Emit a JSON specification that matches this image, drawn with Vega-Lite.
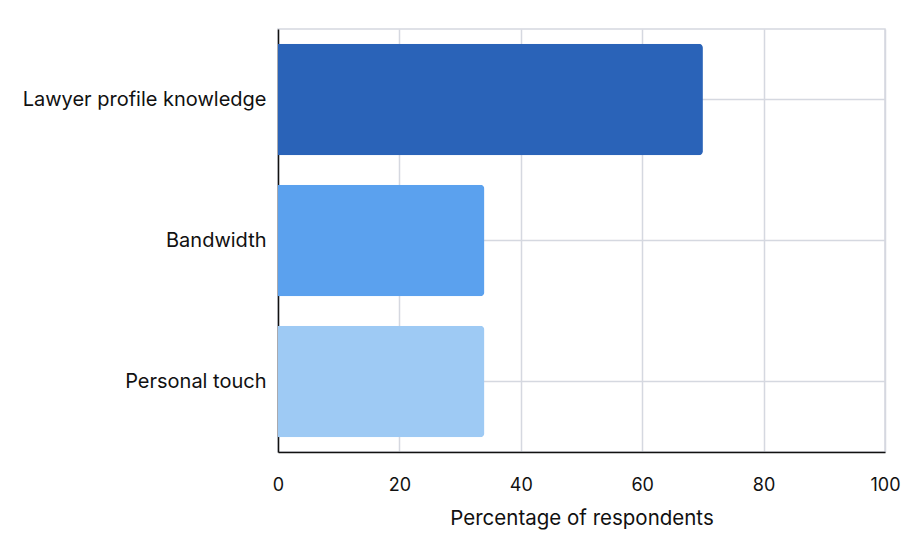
{
  "$schema": "https://vega.github.io/schema/vega-lite/v6.json",
  "width": 607,
  "height": 423,
  "autosize": "none",
  "padding": {"left": 278, "top": 29, "right": 39, "bottom": 105},
  "background": "white",
  "config": {
    "font": "Inter",
    "view": {"stroke": "#d5d8e0", "strokeWidth": 1.5}
  },
  "data": {
    "values": [
      {"factor": "Lawyer profile knowledge", "pct": 70, "c": "a"},
      {"factor": "Bandwidth", "pct": 34, "c": "b"},
      {"factor": "Personal touch", "pct": 34, "c": "c"}
    ]
  },
  "mark": {"type": "bar", "cornerRadiusEnd": 4},
  "encoding": {
    "y": {
      "field": "factor",
      "type": "nominal",
      "sort": null,
      "scale": {"paddingInner": 0.21, "paddingOuter": 0.105},
      "axis": {
        "title": null,
        "grid": true,
        "bandPosition": 0.5,
        "gridColor": "#d5d8e0",
        "gridWidth": 1.5,
        "ticks": false,
        "domainColor": "#111111",
        "domainWidth": 1.5,
        "labelFontSize": 20,
        "labelColor": "#111111",
        "labelPadding": 12,
        "labelLimit": 0,
        "labelFont": "Inter"
      }
    },
    "x": {
      "field": "pct",
      "type": "quantitative",
      "scale": {"domain": [0, 100]},
      "axis": {
        "title": "Percentage of respondents",
        "titleFont": "Inter",
        "titleFontSize": 20.5,
        "titleFontWeight": "normal",
        "titleColor": "#111111",
        "titlePadding": 14,
        "values": [0, 20, 40, 60, 80, 100],
        "grid": true,
        "gridColor": "#d5d8e0",
        "gridWidth": 1.5,
        "ticks": false,
        "domainColor": "#111111",
        "domainWidth": 1.5,
        "labelFontSize": 18,
        "labelColor": "#111111",
        "labelPadding": 24,
        "labelFlush": false,
        "labelFont": "Inter"
      }
    },
    "color": {
      "field": "c",
      "type": "nominal",
      "scale": {"domain": ["a", "b", "c"], "range": ["#2A63B8", "#5BA1EE", "#9ECAF4"]},
      "legend": null
    }
  }
}
